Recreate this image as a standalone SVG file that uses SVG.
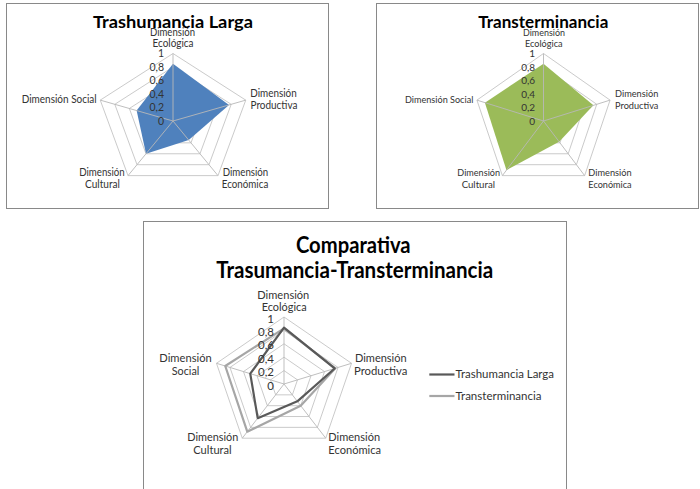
<svg xmlns="http://www.w3.org/2000/svg" width="700" height="489" viewBox="0 0 700 489">
<style>
text{font-family:Lato,"Liberation Sans",sans-serif;fill:#333}
.t{font-weight:bold;fill:#000;text-anchor:middle}
.l{text-anchor:middle}
.n{text-anchor:end}
.frame{fill:#fff;stroke:#898989;stroke-width:1}
.ring{fill:none;stroke:#c4c4c4;stroke-width:0.9}
.spoke{stroke:#b8b8b8;stroke-width:0.9}
.s1{font-size:10.5px}
.s2{font-size:10px}
.s3{font-size:11.5px}
</style>
<rect width="700" height="489" fill="#fff"/>

<g id="chart-trashumancia">
<rect class="frame" x="6.5" y="3.5" width="322" height="205"/>
<text class="t" x="173" y="28.3" font-size="17" textLength="160" lengthAdjust="spacingAndGlyphs">Trashumancia Larga</text>
<g class="rings">
<polygon class="ring" points="173,53.5 245.76,100.14 217.97,175.61 128.03,175.61 100.24,100.14"/>
<polygon class="ring" points="173,67 231.2,104.31 208.97,164.69 137.03,164.69 114.8,104.31"/>
<polygon class="ring" points="173,80.5 216.65,108.48 199.98,153.77 146.02,153.77 129.35,108.48"/>
<polygon class="ring" points="173,94 202.1,112.66 190.99,142.84 155.01,142.84 143.9,112.66"/>
<polygon class="ring" points="173,107.5 187.55,116.83 181.99,131.92 164.01,131.92 158.45,116.83"/>
</g>
<polygon id="area-trashumancia" fill="#4f81bd" points="173,63.63 229.02,104.94 188.74,140.11 146.02,153.77 136.62,110.57"/>
<g class="spokes">
<line class="spoke" x1="173" y1="121" x2="173" y2="53.5"/>
<line class="spoke" x1="173" y1="121" x2="245.76" y2="100.14"/>
<line class="spoke" x1="173" y1="121" x2="217.97" y2="175.61"/>
<line class="spoke" x1="173" y1="121" x2="128.03" y2="175.61"/>
<line class="spoke" x1="173" y1="121" x2="100.24" y2="100.14"/>
</g>
<g class="s1">
<text class="n" x="164" y="57">1</text>
<text class="n" x="164" y="70.5">0,8</text>
<text class="n" x="164" y="84">0,6</text>
<text class="n" x="164" y="97.5">0,4</text>
<text class="n" x="164" y="111">0,2</text>
<text class="n" x="164" y="124.5">0</text>
<text class="l" x="172.5" y="36" textLength="45" lengthAdjust="spacingAndGlyphs">Dimensión</text>
<text class="l" x="173" y="47" textLength="41" lengthAdjust="spacingAndGlyphs">Ecológica</text>
<text class="n" x="96.7" y="102.7" textLength="75" lengthAdjust="spacingAndGlyphs">Dimensión Social</text>
<text class="l" x="273.5" y="97" textLength="46.5" lengthAdjust="spacingAndGlyphs">Dimensión</text>
<text class="l" x="274" y="108.5" textLength="47" lengthAdjust="spacingAndGlyphs">Productiva</text>
<text class="l" x="102" y="176" textLength="45.5" lengthAdjust="spacingAndGlyphs">Dimensión</text>
<text class="l" x="102.5" y="187.5" textLength="35" lengthAdjust="spacingAndGlyphs">Cultural</text>
<text class="l" x="245.5" y="176" textLength="45.5" lengthAdjust="spacingAndGlyphs">Dimensión</text>
<text class="l" x="245" y="187.5" textLength="46.5" lengthAdjust="spacingAndGlyphs">Económica</text>
</g>
</g>

<g id="chart-transterminancia">
<rect class="frame" x="376.5" y="3.5" width="322" height="205"/>
<text class="t" x="543.3" y="28.3" font-size="17" textLength="130" lengthAdjust="spacingAndGlyphs">Transterminancia</text>
<g class="rings">
<polygon class="ring" points="543.5,53.5 610.07,100.14 584.65,175.61 502.36,175.61 476.93,100.14"/>
<polygon class="ring" points="543.5,67 596.76,104.31 576.42,164.69 510.58,164.69 490.24,104.31"/>
<polygon class="ring" points="543.5,80.5 583.44,108.48 568.19,153.77 518.81,153.77 503.56,108.48"/>
<polygon class="ring" points="543.5,94 570.13,112.66 559.96,142.84 527.04,142.84 516.87,112.66"/>
<polygon class="ring" points="543.5,107.5 556.81,116.83 551.73,131.92 535.27,131.92 530.19,116.83"/>
</g>
<polygon id="area-transterminancia" fill="#9bbb59" points="543.5,63.63 593.43,105.36 559.14,141.75 506.47,170.15 484.91,102.64"/>
<g class="spokes">
<line class="spoke" x1="543.5" y1="121" x2="543.5" y2="53.5"/>
<line class="spoke" x1="543.5" y1="121" x2="610.07" y2="100.14"/>
<line class="spoke" x1="543.5" y1="121" x2="584.65" y2="175.61"/>
<line class="spoke" x1="543.5" y1="121" x2="502.36" y2="175.61"/>
<line class="spoke" x1="543.5" y1="121" x2="476.93" y2="100.14"/>
</g>
<g class="s2">
<text class="n" x="535" y="57">1</text>
<text class="n" x="535" y="70.5">0,8</text>
<text class="n" x="535" y="84">0,6</text>
<text class="n" x="535" y="97.5">0,4</text>
<text class="n" x="535" y="111">0,2</text>
<text class="n" x="535" y="124.5">0</text>
<text class="l" x="544" y="36" textLength="42" lengthAdjust="spacingAndGlyphs">Dimensión</text>
<text class="l" x="543.8" y="47" textLength="37.7" lengthAdjust="spacingAndGlyphs">Ecológica</text>
<text class="n" x="473.3" y="102.7" textLength="68.3" lengthAdjust="spacingAndGlyphs">Dimensión Social</text>
<text class="l" x="636.7" y="97.3" textLength="43.3" lengthAdjust="spacingAndGlyphs">Dimensión</text>
<text class="l" x="636.7" y="108.5" textLength="43.3" lengthAdjust="spacingAndGlyphs">Productiva</text>
<text class="l" x="478.7" y="176" textLength="42.7" lengthAdjust="spacingAndGlyphs">Dimensión</text>
<text class="l" x="478.3" y="187.5" textLength="33.3" lengthAdjust="spacingAndGlyphs">Cultural</text>
<text class="l" x="610" y="176" textLength="43.3" lengthAdjust="spacingAndGlyphs">Dimensión</text>
<text class="l" x="610" y="187.5" textLength="43.3" lengthAdjust="spacingAndGlyphs">Económica</text>
</g>
</g>

<g id="chart-comparativa">
<rect class="frame" x="143.5" y="221.5" width="423" height="280"/>
<text class="t" x="353.3" y="253.3" font-size="22" textLength="114.7" lengthAdjust="spacingAndGlyphs">Comparativa</text>
<text class="t" x="354.7" y="278.3" font-size="22" textLength="277" lengthAdjust="spacingAndGlyphs">Trasumancia-Transterminancia</text>
<g class="rings">
<polygon class="ring" points="284,317 351.53,363.3 325.73,438.2 242.27,438.2 216.47,363.3"/>
<polygon class="ring" points="284,330.4 338.02,367.44 317.39,427.36 250.61,427.36 229.98,367.44"/>
<polygon class="ring" points="284,343.8 324.52,371.58 309.04,416.52 258.96,416.52 243.48,371.58"/>
<polygon class="ring" points="284,357.2 311.01,375.72 300.69,405.68 267.31,405.68 256.99,375.72"/>
<polygon class="ring" points="284,370.6 297.51,379.86 292.35,394.84 275.65,394.84 270.49,379.86"/>
</g>
<g class="spokes">
<line class="spoke" x1="284" y1="384" x2="284" y2="317"/>
<line class="spoke" x1="284" y1="384" x2="351.53" y2="363.3"/>
<line class="spoke" x1="284" y1="384" x2="325.73" y2="438.2"/>
<line class="spoke" x1="284" y1="384" x2="242.27" y2="438.2"/>
<line class="spoke" x1="284" y1="384" x2="216.47" y2="363.3"/>
</g>
<polygon id="line-transterminancia" fill="none" stroke="#a6a6a6" stroke-width="2.2" stroke-linejoin="round" points="284,328.39 335.32,368.26 300.69,405.68 247.27,431.7 225.25,365.99"/>
<polygon id="line-trashumancia" fill="none" stroke="#595959" stroke-width="2.2" stroke-linejoin="round" points="284,327.72 334.64,368.47 297.35,401.35 257.71,418.15 250.24,373.65"/>
<g class="s3">
<text class="n" x="274" y="322.5">1</text>
<text class="n" x="274" y="335.9">0,8</text>
<text class="n" x="274" y="349.3">0,6</text>
<text class="n" x="274" y="362.7">0,4</text>
<text class="n" x="274" y="376.1">0,2</text>
<text class="n" x="274" y="389.5">0</text>
<text class="l" x="283.3" y="298.5" textLength="52" lengthAdjust="spacingAndGlyphs">Dimensión</text>
<text class="l" x="284.2" y="311" textLength="45" lengthAdjust="spacingAndGlyphs">Ecológica</text>
<text class="l" x="185.5" y="361.7" textLength="52.4" lengthAdjust="spacingAndGlyphs">Dimensión</text>
<text class="l" x="185.5" y="375" textLength="27.6" lengthAdjust="spacingAndGlyphs">Social</text>
<text class="l" x="380.8" y="361.7" textLength="51.7" lengthAdjust="spacingAndGlyphs">Dimensión</text>
<text class="l" x="380.7" y="375" textLength="53.3" lengthAdjust="spacingAndGlyphs">Productiva</text>
<text class="l" x="212.8" y="441" textLength="51" lengthAdjust="spacingAndGlyphs">Dimensión</text>
<text class="l" x="212.5" y="454.3" textLength="38.4" lengthAdjust="spacingAndGlyphs">Cultural</text>
<text class="l" x="354.2" y="441" textLength="51.7" lengthAdjust="spacingAndGlyphs">Dimensión</text>
<text class="l" x="354.7" y="454.3" textLength="52.7" lengthAdjust="spacingAndGlyphs">Económica</text>
</g>
<g id="legend">
<line x1="429.3" y1="374.5" x2="454.5" y2="374.5" stroke="#595959" stroke-width="2.2"/>
<text class="s3" x="455.5" y="378.3" textLength="98.5" lengthAdjust="spacingAndGlyphs">Trashumancia Larga</text>
<line x1="429.3" y1="396" x2="454.5" y2="396" stroke="#a6a6a6" stroke-width="2.2"/>
<text class="s3" x="455.5" y="400" textLength="86" lengthAdjust="spacingAndGlyphs">Transterminancia</text>
</g>
</g>
</svg>
